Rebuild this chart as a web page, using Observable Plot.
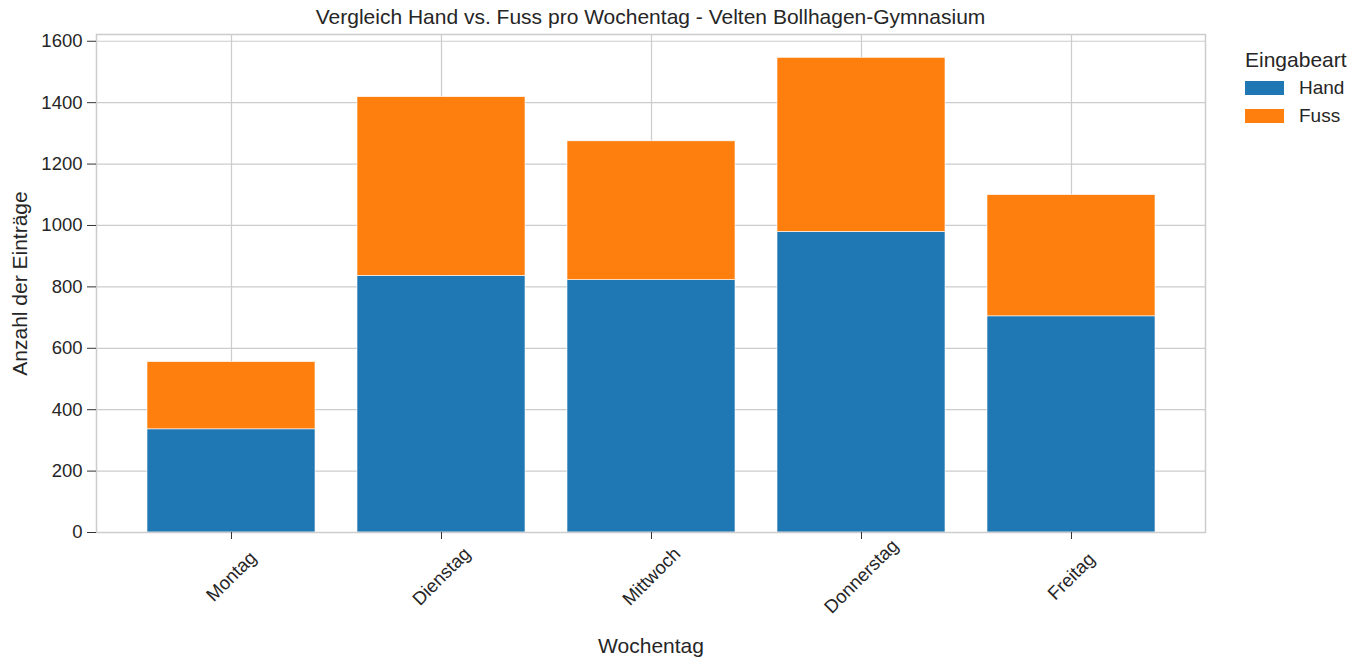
<!DOCTYPE html>
<html>
<head>
<meta charset="utf-8">
<script src="https://cdn.jsdelivr.net/npm/d3@7"></script>
<script src="https://cdn.jsdelivr.net/npm/@observablehq/plot@0.6"></script>
<style>
  html, body { margin: 0; padding: 0; background: #fff; }
  body { width: 1366px; height: 667px; position: relative; overflow: hidden;
         font-family: "Liberation Sans", Arial, sans-serif; color: #262626; }
  #title { height: 28px; line-height: 28px; padding-top: 3px; margin-left: 96px; width: 1109px;
           text-align: center; font-size: 21px; }
  #legend { position: absolute; left: 1245px; top: 46px; font-size: 19px; }
  #legend .lt { font-size: 21px; height: 28px; line-height: 28px; margin-bottom: 0px; }
  #legend .row { display: flex; align-items: center; height: 28px; }
  #legend .sw { width: 39px; height: 14px; margin-right: 15px; }
</style>
</head>
<body>
<div id="title">Vergleich Hand vs. Fuss pro Wochentag - Velten Bollhagen-Gymnasium</div>
<div id="chart"></div>
<div id="legend"></div>
<script>
const days = ["Montag", "Dienstag", "Mittwoch", "Donnerstag", "Freitag"];
const series = ["Hand", "Fuss"];
const handValues = [336, 836, 822, 979, 704];
const fussValues = [219, 582, 452, 567, 395];
const colors = ["#1f77b4", "#ff7f0e"];
const yTicks = [0, 200, 400, 600, 800, 1000, 1200, 1400, 1600];

const data = [];
days.forEach((d, i) => {
  data.push({day: d, art: "Hand", value: handValues[i]});
  data.push({day: d, art: "Fuss", value: fussValues[i]});
});

const grid = "#cccccc";
const chart = Plot.plot({
  width: 1366,
  height: 636,
  marginTop: 3,
  marginBottom: 135,
  marginLeft: 96,
  marginRight: 161,
  style: {fontFamily: "Liberation Sans, Arial, sans-serif", color: "#262626", background: "#fff"},
  x: {domain: days, paddingInner: 0.2, paddingOuter: 0.24, align: 0.5},
  y: {domain: [0, 1622]},
  color: {domain: series, range: colors},
  marks: [
    Plot.gridY(yTicks, {stroke: grid, strokeOpacity: 1, strokeWidth: 1.2}),
    Plot.gridX(days, {stroke: grid, strokeOpacity: 1, strokeWidth: 1.2}),
    Plot.barY(data, Plot.stackY({
      x: "day", y: "value", fill: "art", order: series,
      stroke: "white", strokeWidth: 0.6, inset: 0
    })),
    Plot.frame({stroke: grid, strokeWidth: 1.5}),
    Plot.axisY({ticks: yTicks, tickSize: 9, tickPadding: 5, fontSize: 18.5, label: null,
                stroke: "#333", tickFormat: d3.format("d")}),
    Plot.axisX({tickSize: 7, tickFormat: () => "", label: null, stroke: "#333"}),
    Plot.text(days, {x: d => d, frameAnchor: "bottom", dy: 44, rotate: -45,
                     fontSize: 18.5, fill: "#262626", textAnchor: "middle", lineAnchor: "middle"}),
    Plot.text(["Wochentag"], {frameAnchor: "bottom", dy: 114, fontSize: 21, fill: "#262626",
                     textAnchor: "middle", lineAnchor: "middle"}),
    Plot.text(["Anzahl der Einträge"], {frameAnchor: "left", dx: -76, rotate: -90, fontSize: 21,
                     fill: "#262626", textAnchor: "middle", lineAnchor: "middle"})
  ]
});
document.getElementById("chart").appendChild(chart);

const legend = document.getElementById("legend");
const lt = document.createElement("div");
lt.className = "lt";
lt.textContent = "Eingabeart";
legend.appendChild(lt);
series.forEach((s, i) => {
  const row = document.createElement("div");
  row.className = "row";
  const sw = document.createElement("div");
  sw.className = "sw";
  sw.style.background = colors[i];
  const lab = document.createElement("span");
  lab.textContent = s;
  row.appendChild(sw);
  row.appendChild(lab);
  legend.appendChild(row);
});
</script>
</body>
</html>
